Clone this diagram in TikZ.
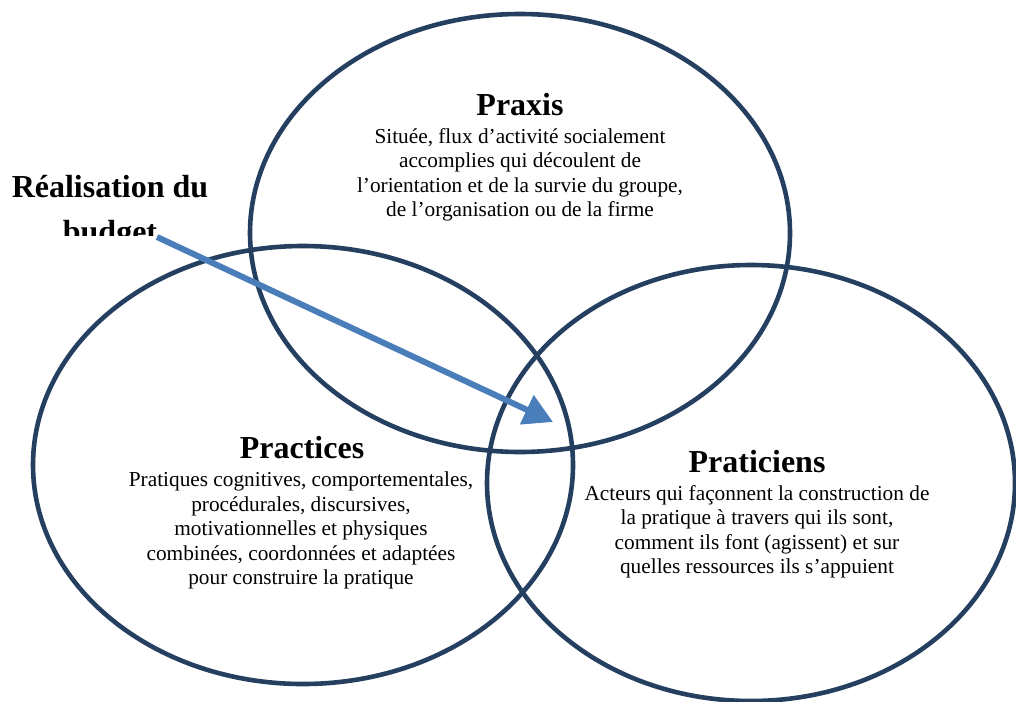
\documentclass[tikz,border=0pt]{standalone}
\usepackage{fontspec}
\setmainfont{Liberation Serif}
\usetikzlibrary{arrows.meta}
\definecolor{ringblue}{HTML}{243F60}
\definecolor{arrowblue}{HTML}{4A7EBB}
\begin{document}
\begin{tikzpicture}[x=1pt,y=-1pt,
  ring/.style={draw=ringblue, line width=4.6pt},
  titletext/.style={font=\fontsize{32}{37}\selectfont\bfseries, anchor=base, inner sep=0pt},
  bodytext/.style={font=\fontsize{21.3}{24.5}\selectfont, align=center, anchor=north, inner sep=0pt},
  pointer/.style={draw=arrowblue, line width=6pt, -{Triangle[length=29pt,width=31pt]}}]
\useasboundingbox (0,0) rectangle (1016,701);
\fill[white] (0,0) rectangle (1016,701);
\coordinate (praxisC) at (520,233);
\coordinate (practC) at (303,465);
\coordinate (pratC) at (751,483);
\draw[ring] (praxisC) ellipse [x radius=270pt, y radius=219pt];
\draw[ring] (practC) ellipse [x radius=270pt, y radius=219pt];
\draw[ring] (pratC) ellipse [x radius=264pt, y radius=218pt];
% Praxis
\node[titletext] (praxisT) at (520,115) {Praxis};
\node[bodytext] (praxisB) at (520,128) {Située, flux d’activité socialement\\accomplies qui découlent de\\l’orientation et de la survie du groupe,\\de l’organisation ou de la firme};
% Practices
\node[titletext] (practT) at (302,458) {Practices};
\node[bodytext] (practB) at (301,472) {Pratiques cognitives, comportementales,\\procédurales, discursives,\\motivationnelles et physiques\\combinées, coordonnées et adaptées\\pour construire la pratique};
% Praticiens
\node[titletext] (pratT) at (757,472) {Praticiens};
\node[bodytext] (pratB) at (757,485) {Acteurs qui façonnent la construction de\\la pratique à travers qui ils sont,\\comment ils font (agissent) et sur\\quelles ressources ils s’appuient};
% Label
\node[titletext] (label1) at (110,197) {Réalisation du};
\begin{scope}
\clip (0,150) rectangle (260,235);
\node[titletext] (label2) at (110,242) {budget};
\end{scope}
\coordinate (arrowstart) at (157,237);
\coordinate (arrowtip) at (553,422);
\draw[pointer] (arrowstart) -- (arrowtip);
\end{tikzpicture}
\end{document}
